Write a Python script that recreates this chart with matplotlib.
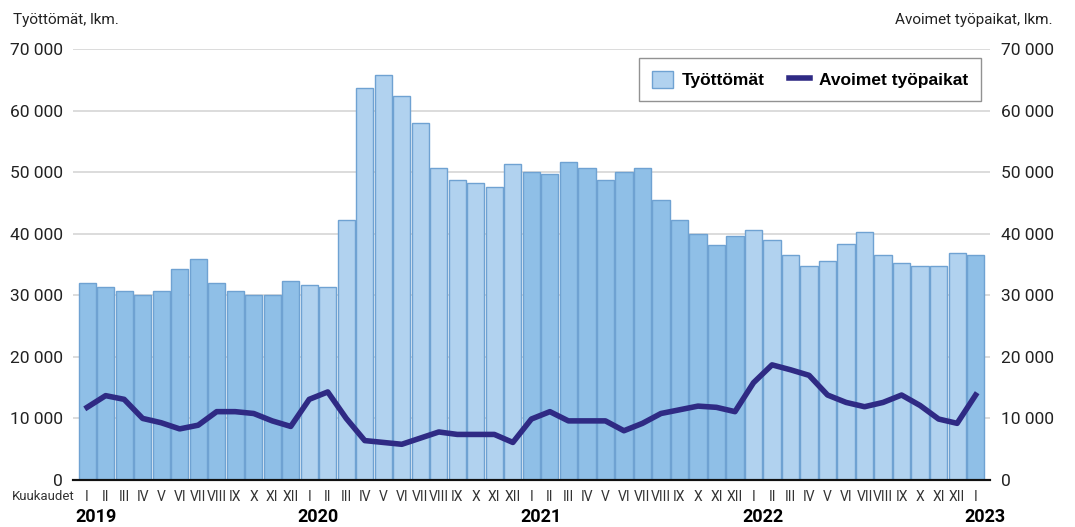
import matplotlib.pyplot as plt
import numpy as np
from matplotlib.lines import Line2D
from matplotlib.patches import Patch

plt.rcParams["font.family"] = ["Roboto", "DejaVu Sans"]

# data
years = [2019, 2020, 2021, 2022, 2023]
months = ["I", "II", "III", "IV", "V", "VI", "VII", "VIII", "IX", "X", "XI", "XII"]

tyottomat = [
    32000, 31300, 30700, 30100, 30700, 34200, 35900, 32000, 30700, 30100, 30100, 32300,
    31700, 31300, 42300, 63600, 65800, 62300, 58000, 50700, 48800, 48200, 47600, 51300,
    50100, 49700, 51700, 50700, 48800, 50100, 50700, 45400, 42300, 40000, 38100, 39700,
    40600, 39000, 36500, 34700, 35500, 38400, 40300, 36500, 35300, 34700, 34700, 36800,
    36500,
]
avoimet = [
    11800, 13700, 13100, 10000, 9300, 8300, 8900, 11100, 11100, 10800, 9600, 8700,
    13100, 14300, 10000, 6400, 6100, 5800, 6800, 7800, 7400, 7400, 7400, 6100,
    9900, 11100, 9600, 9600, 9600, 8000, 9200, 10800, 11400, 12000, 11800, 11100,
    15800, 18700, 17900, 17000, 13800, 12600, 11900, 12600, 13800, 12100, 9900, 9200,
    13800,
]

n = len(tyottomat)
x = np.arange(n)
year_idx = x // 12
dark = "#8fbfe7"
light = "#b1d2ef"
edge = "#6fa2d2"
navy = "#2f2a84"
colors = [dark if y % 2 == 0 else light for y in year_idx]
labels = [months[i % 12] for i in x]

fig = plt.figure(figsize=(10.75, 5.27), dpi=100)
ax = fig.add_axes([0.0676, 0.0892, 0.8534, 0.8178])

ax.bar(x, tyottomat, width=0.93, color=colors, edgecolor=edge, linewidth=1.0, zorder=2)
ax.plot(x, avoimet, color=navy, linewidth=4.0, zorder=3, solid_joinstyle="round")

ax.set_xlim(-0.78, n - 1 + 0.78)
ax.set_ylim(0, 70000)
yt = np.arange(0, 70001, 10000)
ylabels = [f"{v:,}".replace(",", " ") for v in yt]
ax.set_yticks(yt)
ax.set_yticklabels(ylabels, fontsize=12.5, color="#222222")
ax.yaxis.grid(True, color="#dcdcdc", linewidth=1.4, zorder=0)
ax.set_axisbelow(True)
ax.tick_params(axis="y", length=0, pad=7)

ax2 = ax.twinx()
ax2.set_ylim(0, 70000)
ax2.set_yticks(yt)
ax2.set_yticklabels(ylabels, fontsize=12.5, color="#222222")
ax2.tick_params(axis="y", length=0, pad=8)

for a in (ax, ax2):
    for s in ["top", "left", "right"]:
        a.spines[s].set_visible(False)
    a.spines["bottom"].set_color("#111111")
    a.spines["bottom"].set_linewidth(1.5)

ax.set_xticks(x)
ax.set_xticklabels(labels, fontsize=10, color="#333333")
ax.tick_params(axis="x", length=0, pad=7)

fig.text(0.069, 0.0575, "Kuukaudet", fontsize=9.5, color="#333333", ha="right", va="center")
for k, yr in enumerate(years):
    xd = ax.transData.transform((k * 12 + 0.5, 0))[0] / fig.bbox.width
    fig.text(xd, 0.002, str(yr), fontsize=13, fontweight="bold", ha="center", va="bottom")

fig.text(0.012, 0.962, "Työttömät, lkm.", fontsize=11, color="#222222", ha="left", va="center")
fig.text(0.979, 0.962, "Avoimet työpaikat, lkm.", fontsize=11, color="#222222",
         ha="right", va="center")

handles = [
    Patch(facecolor=light, edgecolor=edge, linewidth=1.0),
    Line2D([0], [0], color=navy, linewidth=4.0),
]
leg = ax.legend(handles, ["Työttömät", "Avoimet työpaikat"], loc="upper right",
                bbox_to_anchor=(0.99, 0.98), borderaxespad=0, ncol=2, frameon=True,
                fancybox=False, edgecolor="#777777",
                prop={"family": ["Liberation Sans", "DejaVu Sans"], "weight": "bold", "size": 12.5},
                handlelength=1.2, handleheight=1.2, handletextpad=0.5, columnspacing=1.4,
                borderpad=0.75)
leg.get_frame().set_linewidth(1.0)

fig.savefig("out.png", dpi=100)
